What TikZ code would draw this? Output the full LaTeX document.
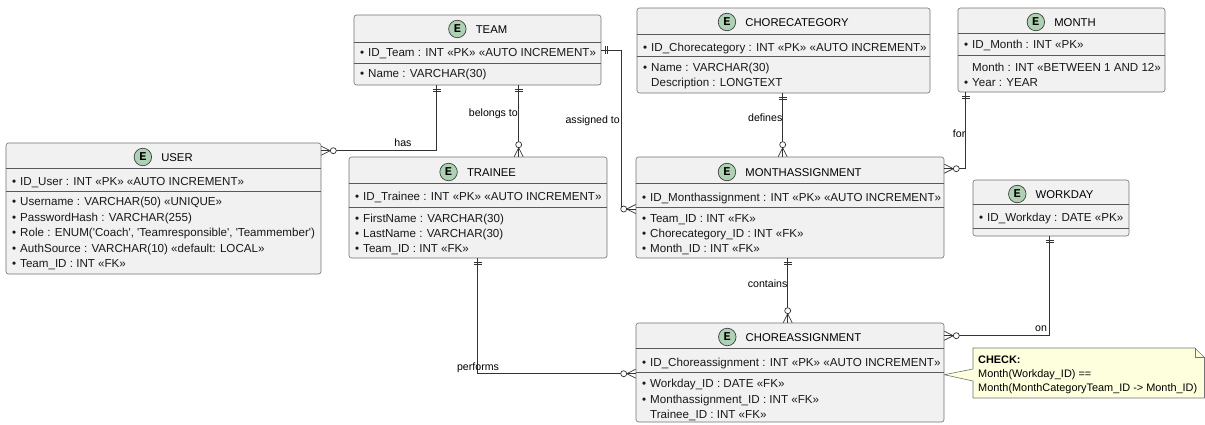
\documentclass[tikz,border=0pt]{standalone}
\usepackage{fontspec}
\setmainfont{Liberation Sans}
\newfontfamily\emono{Liberation Mono}
\usetikzlibrary{fit,calc}
\definecolor{entfill}{HTML}{F1F1F1}
\definecolor{ecircfill}{HTML}{ADD1B2}
\definecolor{notefill}{HTML}{FEFFDD}
\tikzset{
 entbox/.style={draw=black!55, fill=entfill, rounded corners=2.5pt, inner sep=0pt, line width=0.6pt},
 sepline/.style={draw=black!65, line width=0.6pt},
 rowtxt/.style={inner sep=0pt, font=\fontsize{11.6}{13}\selectfont, text=black!90},
 titletxt/.style={inner sep=0pt, text height=8.1pt, text depth=0pt, font=\fontsize{11.3}{13}\selectfont},
 ecirc/.style={circle, draw=black!75, fill=ecircfill, minimum size=17.5pt, inner sep=0pt, line width=0.7pt, font=\emono\bfseries\fontsize{12}{12}\selectfont},
 conn/.style={draw=black!80, line width=0.7pt},
 rel/.style={inner sep=0pt, font=\fontsize{10.6}{12}\selectfont},
 notebox/.style={draw=black!55, fill=notefill, line width=0.6pt, line join=round},
 notetxt/.style={inner sep=0pt, font=\fontsize{10.9}{12}\selectfont},
 onemark/.pic={\draw[conn] (4,-4) -- (4,4) (6.5,-4) -- (6.5,4);},
 manymark/.pic={\draw[conn] (0,4.5) -- (9,0) -- (0,-4.5); \draw[conn, fill=white] (12,0) circle (3);},
}
\newcommand{\entity}[7]{%
 \node[entbox, fit={(#2,-#3) (#4,-#5)}] (#1) {};
 \draw[sepline] (#1.west |- 0,-#6) -- (#1.east |- 0,-#6);
 \draw[sepline] (#1.west |- 0,-#7) -- (#1.east |- 0,-#7);}
\newcommand{\etitle}[4]{%
 \node[titletxt] (#1) at (#2,-#3) {\hspace*{27pt}#4};
 \node[ecirc] (#1e) at ([xshift=8.75pt]#1.west) {E};}
\newcommand{\brow}[4]{\node[rowtxt, anchor=base west] (#1) at (#2,-#3-4) {\makebox[8pt][l]{•}#4};}
\newcommand{\prow}[4]{\node[rowtxt, anchor=base west] (#1) at (#2,-#3-4) {\hspace*{8pt}#4};}
\begin{document}
\begin{tikzpicture}[x=1pt,y=1pt]
\useasboundingbox (0,0) rectangle (1205,-424);
\fill[white] (0,0) rectangle (1205,-424);

% TEAM
\entity{team}{354}{15}{601}{85}{42}{63}
\etitle{teamt}{478}{29}{TEAM}
\brow{team1}{360}{52}{ID\_Team : INT «PK» «AUTO INCREMENT»}
\brow{team2}{360}{73.5}{Name : VARCHAR(30)}

% CHORECATEGORY
\entity{cc}{637}{8}{930}{93}{34}{56}
\etitle{cct}{783.5}{22}{CHORECATEGORY}
\brow{cc1}{643}{47}{ID\_Chorecategory : INT «PK» «AUTO INCREMENT»}
\brow{cc2}{643}{67}{Name : VARCHAR(30)}
\prow{cc3}{643}{82}{Description : LONGTEXT}

% MONTH
\entity{month}{958}{8}{1165}{92}{33}{55}
\etitle{montht}{1061.5}{22}{MONTH}
\brow{month1}{964}{44}{ID\_Month : INT «PK»}
\prow{month2}{964}{67}{Month : INT «BETWEEN 1 AND 12»}
\brow{month3}{964}{82}{Year : YEAR}

% USER
\entity{user}{6}{143}{321}{274}{168}{191}
\etitle{usert}{163.5}{157}{USER}
\brow{user1}{12}{181}{ID\_User : INT «PK» «AUTO INCREMENT»}
\brow{user2}{12}{201}{Username : VARCHAR(50) «UNIQUE»}
\brow{user3}{12}{217}{PasswordHash : VARCHAR(255)}
\brow{user4}{12}{232.5}{Role : ENUM(\textquotesingle Coach\textquotesingle, \textquotesingle Teamresponsible\textquotesingle, \textquotesingle Teammember\textquotesingle)}
\brow{user5}{12}{248}{AuthSource : VARCHAR(10) «default: LOCAL»}
\brow{user6}{12}{263.5}{Team\_ID : INT «FK»}

% TRAINEE
\entity{trainee}{349}{157}{607}{258}{183}{207}
\etitle{traineet}{478}{172}{TRAINEE}
\brow{tr1}{355}{196.5}{ID\_Trainee : INT «PK» «AUTO INCREMENT»}
\brow{tr2}{355}{218}{FirstName : VARCHAR(30)}
\brow{tr3}{355}{233}{LastName : VARCHAR(30)}
\brow{tr4}{355}{248}{Team\_ID : INT «FK»}

% MONTHASSIGNMENT
\entity{ma}{636}{157}{944}{258}{183}{207}
\etitle{mat}{790}{172}{MONTHASSIGNMENT}
\brow{ma1}{642}{197}{ID\_Monthassignment : INT «PK» «AUTO INCREMENT»}
\brow{ma2}{642}{218}{Team\_ID : INT «FK»}
\brow{ma3}{642}{233}{Chorecategory\_ID : INT «FK»}
\brow{ma4}{642}{248}{Month\_ID : INT «FK»}

% WORKDAY
\entity{wd}{973}{180}{1129}{236}{204}{228}
\etitle{wdt}{1051}{194}{WORKDAY}
\brow{wd1}{979}{217}{ID\_Workday : DATE «PK»}

% CHOREASSIGNMENT
\entity{ca}{636}{323}{944}{422}{348}{372}
\etitle{cat}{790}{337}{CHOREASSIGNMENT}
\brow{ca1}{642}{362}{ID\_Choreassignment : INT «PK» «AUTO INCREMENT»}
\brow{ca2}{642}{383}{Workday\_ID : DATE «FK»}
\brow{ca3}{642}{399}{Monthassignment\_ID : INT «FK»}
\prow{ca4}{642}{414}{Trainee\_ID : INT «FK»}

% connectors
\draw[conn] ([xshift=83pt]team.south west) coordinate (hasA) |- ([yshift=-8pt]user.north east) coordinate (hasB);
\draw[conn] ([xshift=165pt]team.south west) coordinate (btA) -- (btA |- trainee.north) coordinate (btB);
\draw[conn] (team.east) coordinate (atA) -- ++(20,0) |- ([yshift=-1.5pt]ma.west) coordinate (atB);
\draw[conn] ([xshift=146pt]cc.south west) coordinate (dfA) -- (dfA |- ma.north) coordinate (dfB);
\draw[conn] ([xshift=8pt]month.south west) coordinate (frA) |- ([yshift=-12pt]ma.north east) coordinate (frB);
\draw[conn] ([xshift=152pt]ma.south west) coordinate (ctA) -- (ctA |- ca.north) coordinate (ctB);
\draw[conn] ([xshift=77pt]wd.south west) coordinate (onA) |- ([yshift=-13pt]ca.north east) coordinate (onB);
\draw[conn] ([xshift=129pt]trainee.south west) coordinate (pfA) |- ([yshift=-51pt]ca.north west) coordinate (pfB);

\pic[rotate=-90] at (hasA) {onemark}; \pic at (hasB) {manymark};
\pic[rotate=-90] at (btA) {onemark}; \pic[rotate=90] at (btB) {manymark};
\pic at (atA) {onemark}; \pic[rotate=180] at (atB) {manymark};
\pic[rotate=-90] at (dfA) {onemark}; \pic[rotate=90] at (dfB) {manymark};
\pic[rotate=-90] at (frA) {onemark}; \pic at (frB) {manymark};
\pic[rotate=-90] at (ctA) {onemark}; \pic[rotate=90] at (ctB) {manymark};
\pic[rotate=-90] at (onA) {onemark}; \pic at (onB) {manymark};
\pic[rotate=-90] at (pfA) {onemark}; \pic[rotate=180] at (pfB) {manymark};

% relation labels
\node[rel, anchor=base] (lhas) at (403,-146.5) {has};
\node[rel, anchor=base east] (lbel) at (518,-116.5) {belongs to};
\node[rel, anchor=base east] (lass) at (620,-123.5) {assigned to};
\node[rel, anchor=base east] (ldef) at (782.5,-121.5) {defines};
\node[rel, anchor=base east] (lfor) at (965.5,-137.5) {for};
\node[rel, anchor=base east] (lcon) at (787.5,-287.5) {contains};
\node[rel, anchor=base] (lon) at (1041,-331.5) {on};
\node[rel, anchor=base] (lperf) at (478,-370.5) {performs};

% note
\coordinate (tip) at ([yshift=-52pt]ca.north east);
\draw[notebox] (973,-348) -- (1195,-348) -- (1204.5,-357.5) -- (1204.5,-398) -- (973,-398) -- (973,-381) -- (tip) -- (973,-369) -- cycle;
\draw[notebox, fill=none] (1195,-348) -- (1195,-357.5) -- (1204.5,-357.5);
\node[notetxt, anchor=base west] (n1) at (978,-363) {\bfseries CHECK:};
\node[notetxt, anchor=base west] (n2) at (978,-377) {Month(Workday\_ID) ==};
\node[notetxt, anchor=base west] (n3) at (978,-391) {Month(MonthCategoryTeam\_ID -> Month\_ID)};
\end{tikzpicture}
\end{document}
